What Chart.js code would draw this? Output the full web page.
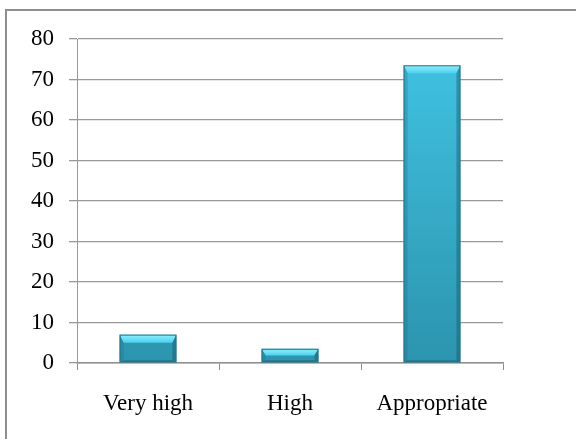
<!DOCTYPE html>
<html>
<head>
<meta charset="utf-8">
<script src="https://cdn.jsdelivr.net/npm/chart.js@4"></script>
<style>
    html, body { margin: 0; padding: 0; background: #fff; overflow: hidden; }
    #wrap { position: relative; width: 576px; height: 439px; }
    #frame {
        position: absolute; left: 5px; top: 9px;
        width: 640px; height: 520px;
        border: 2px solid #8e8e8e;
    }
    canvas { position: absolute; left: 0; top: 0; }
</style>
</head>
<body>
<div id="wrap">
    <div id="frame"></div>
    <canvas id="chart" width="576" height="439"></canvas>
</div>
<script>
// Data
const categories = ['Very high', 'High', 'Appropriate'];
const values     = [7, 3.5, 73.5];
const yTicks     = [0, 10, 20, 30, 40, 50, 60, 70, 80];

const FONT = "'Liberation Serif', 'Times New Roman', serif";

// Vertical cyan gradient for each bar body
function barGradient(context) {
    const chart = context.chart;
    const area  = chart.chartArea;
    if (!area) return '#36b4d4';
    const g = chart.ctx.createLinearGradient(0, area.top, 0, area.bottom);
    g.addColorStop(0, '#41c4e4');
    g.addColorStop(1, '#2c94ae');
    return g;
}

// Bevel look: light top face, thin shaded side and bottom edges
const bevelPlugin = {
    id: 'bevel',
    afterDatasetsDraw(chart) {
        const ctx  = chart.ctx;
        const meta = chart.getDatasetMeta(0);
        meta.data.forEach(bar => {
            const l = bar.x - bar.width / 2;
            const r = bar.x + bar.width / 2;
            const t = bar.y;
            const b = bar.base;
            const s  = Math.min(8, (b - t) / 2);   // top bevel depth
            const sd = Math.min(4, s);              // side bevel
            const bt = Math.min(2, s / 2);          // bottom bevel

            ctx.save();
            // top face
            const tg = ctx.createLinearGradient(0, t, 0, t + s);
            tg.addColorStop(0, '#8ff0ff');
            tg.addColorStop(1, '#4cd0ee');
            ctx.fillStyle = tg;
            ctx.beginPath();
            ctx.moveTo(l, t); ctx.lineTo(r, t);
            ctx.lineTo(r - sd, t + s); ctx.lineTo(l + sd, t + s);
            ctx.closePath(); ctx.fill();

            // left face
            ctx.fillStyle = 'rgba(30,110,135,0.30)';
            ctx.beginPath();
            ctx.moveTo(l, t); ctx.lineTo(l + sd, t + s);
            ctx.lineTo(l + sd, b - bt); ctx.lineTo(l, b);
            ctx.closePath(); ctx.fill();

            // right face
            ctx.fillStyle = 'rgba(20,80,100,0.40)';
            ctx.beginPath();
            ctx.moveTo(r, t); ctx.lineTo(r - sd, t + s);
            ctx.lineTo(r - sd, b - bt); ctx.lineTo(r, b);
            ctx.closePath(); ctx.fill();

            // bottom face
            ctx.fillStyle = 'rgba(20,80,100,0.45)';
            ctx.beginPath();
            ctx.moveTo(l, b); ctx.lineTo(l + sd, b - bt);
            ctx.lineTo(r - sd, b - bt); ctx.lineTo(r, b);
            ctx.closePath(); ctx.fill();

            // outline
            ctx.strokeStyle = '#26768c';
            ctx.lineWidth = 1;
            ctx.strokeRect(l + 0.5, t + 0.5, r - l - 1, b - t - 1);
            ctx.restore();
        });
    },
};

new Chart(document.getElementById('chart'), {
    type: 'bar',
    data: {
        labels: categories,
        datasets: [{
            data: values,
            backgroundColor: barGradient,
            borderWidth: 0,
            categoryPercentage: 1,
            barPercentage: 0.4,
        }],
    },
    options: {
        responsive: false,
        animation: false,
        devicePixelRatio: 1,
        layout: { padding: { left: 0, top: 39, right: 73, bottom: 0 } },
        plugins: {
            legend: { display: false },
            tooltip: { enabled: false },
        },
        scales: {
            x: {
                offset: true,
                grid: {
                    offset: true,
                    drawOnChartArea: false,
                    drawTicks: true,
                    tickLength: 7,
                    color: '#8f8f8f',
                },
                border: { display: true, color: '#8f8f8f', width: 1.5 },
                ticks: {
                    color: '#000',
                    padding: 20,
                    font: { family: FONT, size: 23 },
                },
                afterFit(scale) { scale.height = 76; },
            },
            y: {
                min: 0,
                max: 80,
                afterBuildTicks(scale) {
                    scale.ticks = yTicks.map(v => ({ value: v }));
                },
                grid: {
                    color: '#999999',
                    lineWidth: 1.3,
                    tickLength: 8,
                },
                border: { display: true, color: '#999999' },
                ticks: {
                    color: '#000',
                    padding: 15,
                    font: { family: FONT, size: 23 },
                },
                afterFit(scale) { scale.width = 77; },
            },
        },
    },
    plugins: [bevelPlugin],
});
</script>
</body>
</html>
